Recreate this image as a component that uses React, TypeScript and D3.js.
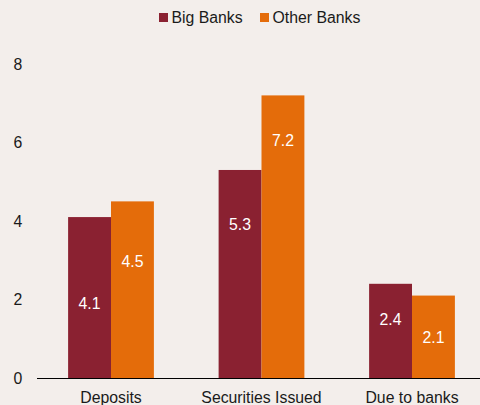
import React from "react";
import * as d3 from "d3";

const categories = ["Deposits", "Securities Issued", "Due to banks"];
const seriesNames = ["Big Banks", "Other Banks"];
const bigBanks = [4.1, 5.3, 2.4];
const otherBanks = [4.5, 7.2, 2.1];
// vertical position of the value label, in data units
const bigBanksLabelAt = [1.91, 3.92, 1.48];
const otherBanksLabelAt = [2.98, 6.05, 1.02];
const yTicks = [0, 2, 4, 6, 8];

const colors = ["#8a2131", "#e46c0a"];
const W = 480;
const H = 405;
const FONT = "'Liberation Sans', Arial, sans-serif";
const FS = 15.8;

export default function App() {
  const x0 = d3
    .scaleBand<string>()
    .domain(categories)
    .range([35.75, 487.25])
    .paddingInner(0.43)
    .paddingOuter(0.215);
  const x1 = d3
    .scaleBand<string>()
    .domain(seriesNames)
    .range([0, x0.bandwidth()]);
  const y = d3.scaleLinear().domain([0, 8]).range([378, 64]);

  const series = [
    { name: seriesNames[0], values: bigBanks, labelAt: bigBanksLabelAt, color: colors[0] },
    { name: seriesNames[1], values: otherBanks, labelAt: otherBanksLabelAt, color: colors[1] },
  ];

  const legendItems = [
    { name: seriesNames[0], color: colors[0], x: 159 },
    { name: seriesNames[1], color: colors[1], x: 260 },
  ];

  return (
    <svg
      width={W}
      height={H}
      style={{ position: "absolute", left: 0, top: 0, display: "block" }}
      fontFamily={FONT}
    >
      <rect x={0} y={0} width={W} height={H} fill="#f3eeeb" />
      {/* legend */}
      {legendItems.map((d) => (
        <g key={d.name}>
          <rect x={d.x} y={13} width={9} height={9} fill={d.color} />
          <text x={d.x + 12.5} y={23} fontSize={FS} fill="#1a1a1a">
            {d.name}
          </text>
        </g>
      ))}
      {/* y ticks */}
      {yTicks.map((t) => (
        <text
          key={t}
          x={18}
          y={y(t)}
          dy="0.35em"
          textAnchor="middle"
          fontSize={FS}
          fill="#1a1a1a"
        >
          {t}
        </text>
      ))}
      {/* bars */}
      {categories.map((c, i) => (
        <g key={c} transform={`translate(${x0(c)},0)`}>
          {series.map((s) => (
            <rect
              key={s.name}
              x={x1(s.name)}
              y={y(s.values[i])}
              width={x1.bandwidth()}
              height={y(0) - y(s.values[i])}
              fill={s.color}
            />
          ))}
          {series.map((s) => (
            <text
              key={s.name + "l"}
              x={(x1(s.name) as number) + x1.bandwidth() / 2}
              y={y(s.labelAt[i])}
              dy="0.35em"
              textAnchor="middle"
              fontSize={FS}
              fill="#ffffff"
            >
              {s.values[i].toFixed(1)}
            </text>
          ))}
        </g>
      ))}
      {/* axis line */}
      <line x1={37} x2={W} y1={y(0) + 0.5} y2={y(0) + 0.5} stroke="#000" strokeWidth={1} />
      {/* category labels */}
      {categories.map((c) => (
        <text
          key={c}
          x={(x0(c) as number) + x0.bandwidth() / 2}
          y={403}
          textAnchor="middle"
          fontSize={FS}
          fill="#1a1a1a"
        >
          {c}
        </text>
      ))}
    </svg>
  );
}
